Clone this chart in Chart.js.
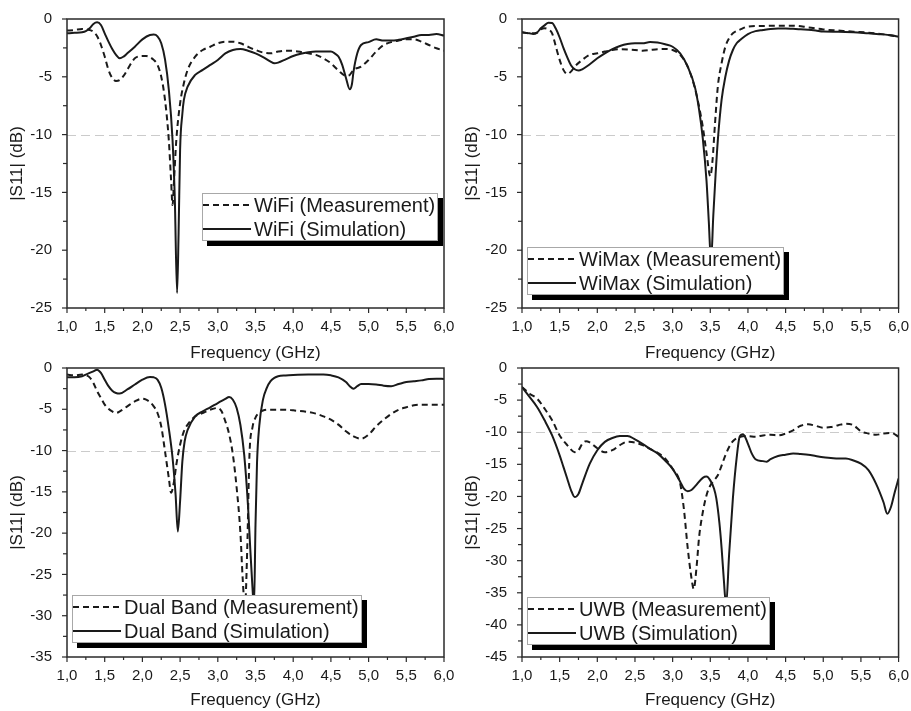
<!DOCTYPE html>
<html>
<head>
<meta charset="utf-8">
<title>|S11| vs frequency</title>
<script src="https://cdn.jsdelivr.net/npm/chart.js@4/dist/chart.umd.min.js"></script>
<style>
  html, body { margin: 0; padding: 0; background: #fff; }
  #wrap { position: relative; width: 911px; height: 711px; overflow: hidden; }
  .panel { position: absolute; }
</style>
</head>
<body>
<div id="wrap">
  <canvas id="wifiChart" class="panel"></canvas>
  <canvas id="wimaxChart" class="panel"></canvas>
  <canvas id="dualChart" class="panel"></canvas>
  <canvas id="uwbChart" class="panel"></canvas>
</div>
<script>
const FONT = "'Liberation Sans', Arial, sans-serif";
const INK = "#1a1a1a";

// axis ticks
const freqTicks = [1.0, 1.5, 2.0, 2.5, 3.0, 3.5, 4.0, 4.5, 5.0, 5.5, 6.0];
const dbTicks25 = [0, -5, -10, -15, -20, -25];
const dbTicks35 = [0, -5, -10, -15, -20, -25, -30, -35];
const dbTicks45 = [0, -5, -10, -15, -20, -25, -30, -35, -40, -45];
const refLevel = -10;

// WiFi
const wifiMeasFreq = [1.0,1.1,1.2,1.25,1.3,1.35,1.4,1.45,1.5,1.55,1.6,1.65,1.7,1.75,1.8,1.85,1.9,2.0,2.05,2.1,2.15,2.2,2.25,2.3,2.35,2.38,2.4,2.42,2.45,2.5,2.55,2.6,2.7,2.8,2.9,3.0,3.1,3.2,3.3,3.4,3.5,3.6,3.7,3.8,3.9,4.0,4.1,4.2,4.3,4.4,4.5,4.6,4.7,4.75,4.8,4.9,5.0,5.1,5.2,5.3,5.4,5.5,5.6,5.7,5.8,5.9,6.0];
const wifiMeasDb = [-1.0,-0.95,-0.86,-0.9,-0.95,-1.1,-1.5,-2.25,-3.25,-4.4,-5.1,-5.36,-5.27,-4.92,-4.4,-3.83,-3.4,-3.2,-3.2,-3.3,-3.54,-3.97,-5.0,-7.0,-10.45,-13.9,-16.1,-13.9,-10.45,-7.3,-5.56,-4.4,-3.25,-2.68,-2.4,-2.1,-1.96,-1.96,-2.1,-2.4,-2.68,-2.9,-2.97,-2.82,-2.74,-2.76,-2.85,-2.97,-3.1,-3.4,-3.83,-4.46,-4.92,-4.84,-4.4,-4.12,-3.54,-2.82,-2.25,-2.0,-1.87,-1.76,-1.76,-1.96,-2.25,-2.53,-2.74];
const wifiSimFreq = [1.0,1.1,1.2,1.25,1.3,1.35,1.4,1.45,1.5,1.55,1.6,1.65,1.7,1.75,1.8,1.9,2.0,2.1,2.15,2.2,2.25,2.3,2.35,2.4,2.43,2.46,2.48,2.5,2.53,2.55,2.6,2.7,2.8,2.9,3.0,3.1,3.2,3.3,3.4,3.5,3.6,3.7,3.75,3.8,3.9,4.0,4.1,4.2,4.3,4.4,4.5,4.55,4.6,4.65,4.7,4.75,4.78,4.8,4.85,4.9,5.0,5.1,5.2,5.3,5.4,5.5,5.6,5.7,5.8,5.9,6.0];
const wifiSimDb = [-1.24,-1.2,-1.15,-1.05,-0.8,-0.43,-0.29,-0.52,-1.24,-1.96,-2.6,-3.1,-3.4,-3.25,-2.97,-2.4,-1.76,-1.38,-1.35,-1.5,-2.1,-3.5,-6.1,-10.5,-15.6,-23.7,-18.5,-11.3,-8.2,-7.0,-5.85,-4.84,-4.4,-3.97,-3.54,-2.97,-2.68,-2.6,-2.74,-2.97,-3.3,-3.69,-3.83,-3.77,-3.49,-3.2,-3.0,-2.88,-2.82,-2.82,-2.82,-2.97,-3.25,-3.97,-5.1,-6.08,-5.6,-4.55,-2.97,-2.25,-2.0,-1.76,-1.87,-1.87,-1.8,-1.67,-1.53,-1.38,-1.38,-1.3,-1.44];

// WiMax
const wimaxMeasFreq = [1.0,1.1,1.2,1.25,1.3,1.35,1.4,1.45,1.5,1.55,1.6,1.65,1.7,1.8,1.9,2.0,2.1,2.2,2.3,2.5,2.6,2.7,2.8,2.9,3.0,3.1,3.2,3.3,3.4,3.45,3.5,3.53,3.56,3.6,3.65,3.7,3.75,3.8,3.9,4.0,4.2,4.4,4.6,4.8,5.0,5.2,5.4,5.6,5.8,6.0];
const wimaxMeasDb = [-1.15,-1.24,-1.18,-0.9,-0.8,-0.9,-1.24,-2.4,-3.54,-4.4,-4.75,-4.55,-4.12,-3.54,-3.1,-2.97,-2.82,-2.68,-2.62,-2.68,-2.74,-2.68,-2.62,-2.6,-2.68,-3.1,-4.12,-6.1,-9.3,-11.6,-13.6,-12.2,-9.3,-5.85,-3.83,-2.4,-1.67,-1.24,-0.9,-0.66,-0.6,-0.58,-0.58,-0.72,-0.9,-1.0,-1.1,-1.18,-1.33,-1.53];
const wimaxSimFreq = [1.0,1.1,1.15,1.2,1.25,1.3,1.35,1.4,1.45,1.5,1.55,1.6,1.65,1.7,1.75,1.8,1.9,2.0,2.1,2.2,2.3,2.4,2.5,2.6,2.7,2.8,2.9,3.0,3.1,3.2,3.3,3.35,3.4,3.45,3.48,3.51,3.54,3.57,3.6,3.65,3.7,3.75,3.8,3.85,3.9,4.0,4.1,4.2,4.3,4.4,4.5,4.6,4.7,4.8,4.9,5.0,5.2,5.4,5.6,5.8,5.9,6.0];
const wimaxSimDb = [-1.15,-1.24,-1.3,-1.18,-0.8,-0.55,-0.32,-0.35,-0.85,-1.6,-2.5,-3.3,-4.0,-4.35,-4.46,-4.35,-3.92,-3.4,-2.97,-2.6,-2.33,-2.16,-2.1,-2.1,-2.0,-2.04,-2.19,-2.4,-2.97,-4.12,-6.0,-7.8,-10.3,-14.0,-17.5,-21.0,-17.0,-13.5,-10.5,-7.0,-5.0,-3.6,-2.68,-2.1,-1.8,-1.3,-1.05,-0.95,-0.86,-0.82,-0.82,-0.85,-0.88,-0.93,-1.0,-1.08,-1.1,-1.15,-1.24,-1.33,-1.41,-1.53];

// Dual band
const dualMeasFreq = [1.0,1.1,1.2,1.25,1.3,1.35,1.4,1.45,1.5,1.55,1.6,1.65,1.7,1.8,1.9,2.0,2.05,2.1,2.15,2.2,2.25,2.3,2.35,2.38,2.42,2.45,2.5,2.55,2.6,2.7,2.8,2.9,3.0,3.05,3.1,3.15,3.2,3.25,3.3,3.33,3.36,3.39,3.42,3.46,3.5,3.55,3.6,3.7,3.8,3.9,4.0,4.2,4.3,4.4,4.5,4.6,4.7,4.8,4.9,5.0,5.1,5.2,5.3,5.4,5.5,5.6,5.7,5.8,5.9,6.0];
const dualMeasDb = [-0.8,-0.89,-0.8,-0.89,-1.13,-1.82,-2.83,-3.63,-4.44,-4.93,-5.25,-5.45,-5.25,-4.64,-4.04,-3.71,-3.84,-4.12,-4.64,-5.45,-7.07,-10.1,-13.3,-15.1,-13.7,-11.7,-9.3,-7.67,-6.86,-5.85,-5.45,-5.05,-4.84,-5.25,-6.46,-8.0,-10.5,-14.5,-20.0,-25.5,-29.0,-22.0,-10.5,-7.2,-6.0,-5.4,-5.15,-5.05,-5.05,-5.05,-5.13,-5.33,-5.53,-5.85,-6.26,-6.86,-7.67,-8.28,-8.56,-8.07,-7.07,-6.26,-5.57,-5.05,-4.76,-4.52,-4.44,-4.44,-4.44,-4.44];
const dualSimFreq = [1.0,1.1,1.2,1.25,1.3,1.35,1.4,1.45,1.5,1.55,1.6,1.65,1.7,1.8,1.9,2.0,2.1,2.15,2.2,2.25,2.3,2.35,2.4,2.44,2.47,2.5,2.53,2.56,2.6,2.7,2.8,2.9,3.0,3.1,3.15,3.2,3.25,3.3,3.35,3.4,3.43,3.46,3.48,3.5,3.52,3.55,3.6,3.65,3.7,3.75,3.8,3.9,4.0,4.2,4.4,4.5,4.6,4.7,4.75,4.8,4.85,4.9,5.0,5.1,5.2,5.3,5.4,5.5,5.6,5.7,5.8,5.9,6.0];
const dualSimDb = [-1.13,-1.13,-1.0,-0.8,-0.6,-0.4,-0.2,-0.6,-1.41,-2.2,-2.75,-3.03,-3.1,-2.6,-2.0,-1.41,-1.09,-1.13,-1.41,-2.4,-4.4,-7.3,-10.9,-15.3,-19.8,-16.1,-11.3,-8.9,-7.5,-5.85,-5.25,-4.76,-4.24,-3.75,-3.5,-3.84,-4.84,-6.9,-10.5,-16.6,-21.8,-26.6,-29.0,-19.0,-11.5,-7.0,-3.8,-2.4,-1.6,-1.2,-1.0,-0.9,-0.85,-0.8,-0.8,-0.89,-1.13,-1.7,-2.2,-2.5,-2.2,-1.94,-1.94,-2.0,-2.14,-2.2,-1.94,-1.7,-1.6,-1.5,-1.33,-1.29,-1.33];

// UWB
const uwbMeasFreq = [1.0,1.1,1.2,1.3,1.4,1.5,1.6,1.7,1.75,1.8,1.85,1.9,2.0,2.1,2.2,2.3,2.4,2.5,2.6,2.7,2.8,2.9,3.0,3.1,3.15,3.2,3.25,3.28,3.32,3.35,3.4,3.45,3.5,3.55,3.6,3.65,3.7,3.75,3.8,3.9,4.0,4.1,4.2,4.3,4.4,4.5,4.6,4.7,4.8,4.9,5.0,5.1,5.2,5.3,5.4,5.5,5.6,5.7,5.8,5.9,6.0];
const uwbMeasDb = [-2.96,-4.0,-4.77,-6.33,-8.15,-10.5,-12.0,-13.1,-12.8,-11.8,-11.4,-11.6,-12.5,-13.1,-12.8,-12.0,-11.5,-11.6,-12.0,-12.6,-13.2,-14.1,-15.7,-18.0,-22.0,-28.0,-32.7,-34.4,-30.7,-26.5,-22.5,-19.8,-18.3,-17.5,-16.7,-15.2,-13.6,-12.3,-11.4,-10.7,-10.6,-10.7,-10.5,-10.4,-10.5,-10.2,-9.7,-9.0,-8.77,-9.0,-9.3,-9.2,-8.9,-8.67,-8.9,-9.86,-10.2,-10.4,-10.2,-10.1,-10.7];
const uwbSimFreq = [1.0,1.1,1.2,1.3,1.4,1.5,1.55,1.6,1.65,1.7,1.75,1.8,1.9,2.0,2.1,2.2,2.3,2.4,2.5,2.6,2.7,2.8,2.9,3.0,3.1,3.15,3.2,3.25,3.3,3.4,3.45,3.5,3.55,3.58,3.62,3.65,3.68,3.71,3.75,3.8,3.85,3.89,3.935,4.0,4.05,4.1,4.2,4.25,4.3,4.4,4.5,4.6,4.7,4.8,4.9,5.0,5.1,5.2,5.3,5.4,5.5,5.6,5.7,5.8,5.85,5.9,5.95,6.0];
const uwbSimDb = [-2.96,-4.5,-6.07,-8.15,-10.5,-13.6,-15.4,-17.2,-19.0,-20.1,-19.6,-18.0,-14.9,-12.8,-11.5,-10.9,-10.6,-10.6,-11.1,-11.8,-12.6,-13.3,-14.4,-15.7,-17.7,-18.8,-19.2,-19.0,-18.4,-17.1,-16.9,-17.5,-18.8,-20.3,-24.0,-28.0,-33.0,-37.0,-29.0,-20.3,-14.0,-10.7,-10.3,-11.8,-13.3,-14.2,-14.5,-14.6,-14.2,-13.7,-13.5,-13.3,-13.4,-13.5,-13.7,-13.9,-14.0,-14.1,-14.1,-14.4,-14.9,-15.9,-18.0,-20.9,-22.7,-21.6,-19.3,-17.2];

function points(xs, ys) {
    return xs.map((x, i) => ({ x: x, y: ys[i] }));
}

function series(name, measFreq, measDb, simFreq, simDb) {
    const common = {
        borderColor: INK,
        borderWidth: 2,
        pointRadius: 0,
        fill: false,
        cubicInterpolationMode: "monotone"
    };
    return [
        Object.assign({ label: name + " (Measurement)", data: points(measFreq, measDb), borderDash: [6, 4] }, common),
        Object.assign({ label: name + " (Simulation)", data: points(simFreq, simDb), borderDash: [] }, common)
    ];
}

// -10 dB guide, frame, outward ticks and the shadowed legend box
const framePlugin = {
    id: "frame",
    beforeDatasetsDraw(chart) {
        const { ctx, chartArea: a, scales: { y } } = chart;
        const yr = Math.round(y.getPixelForValue(refLevel)) + 0.5;
        ctx.save();
        ctx.strokeStyle = "#cbcbcb";
        ctx.lineWidth = 1;
        ctx.setLineDash([9, 5]);
        ctx.beginPath();
        ctx.moveTo(a.left, yr);
        ctx.lineTo(a.right, yr);
        ctx.stroke();
        ctx.restore();
    },
    afterDatasetsDraw(chart, args, opts) {
        const { ctx, chartArea: a, scales: { x, y } } = chart;
        ctx.save();

        // legend
        ctx.font = "20px " + FONT;
        const sets = chart.data.datasets;
        const textW = Math.max(...sets.map(d => ctx.measureText(d.label).width));
        const bx = Math.round(a.left + opts.legendAt[0]);
        const by = Math.round(a.top + opts.legendAt[1]);
        const bw = Math.round(53 + textW + 2);
        const bh = 48;
        ctx.fillStyle = "#000";
        ctx.fillRect(bx + 5, by + 5, bw, bh);
        ctx.fillStyle = "#fff";
        ctx.fillRect(bx, by, bw, bh);
        ctx.strokeStyle = "#a8a8a8";
        ctx.lineWidth = 1;
        ctx.strokeRect(bx + 0.5, by + 0.5, bw - 1, bh - 1);
        sets.forEach((d, i) => {
            const ry = by + 12 + i * 24;
            ctx.strokeStyle = d.borderColor;
            ctx.lineWidth = 2;
            ctx.setLineDash(d.borderDash);
            ctx.beginPath();
            ctx.moveTo(bx + 1, ry);
            ctx.lineTo(bx + 49, ry);
            ctx.stroke();
            ctx.setLineDash([]);
            ctx.fillStyle = INK;
            ctx.textBaseline = "middle";
            ctx.textAlign = "left";
            ctx.fillText(d.label, bx + 52, ry + 1);
        });

        // frame
        ctx.strokeStyle = "#2a2a2a";
        ctx.lineWidth = 1.5;
        ctx.strokeRect(a.left, a.top, a.right - a.left, a.bottom - a.top);

        // ticks: majors on labels, minors half way between
        ctx.lineWidth = 1.2;
        const xs = x.ticks.map(t => t.value);
        xs.forEach((v, i) => {
            const px = x.getPixelForValue(v);
            ctx.beginPath();
            ctx.moveTo(px, a.bottom);
            ctx.lineTo(px, a.bottom + 5);
            ctx.stroke();
            if (i < xs.length - 1) {
                const pm = x.getPixelForValue((v + xs[i + 1]) / 2);
                ctx.beginPath();
                ctx.moveTo(pm, a.bottom);
                ctx.lineTo(pm, a.bottom + 3);
                ctx.stroke();
            }
        });
        const ys = y.ticks.map(t => t.value);
        ys.forEach((v, i) => {
            const py = y.getPixelForValue(v);
            ctx.beginPath();
            ctx.moveTo(a.left - 5, py);
            ctx.lineTo(a.left, py);
            ctx.stroke();
            if (i < ys.length - 1) {
                const pm = y.getPixelForValue((v + ys[i + 1]) / 2);
                ctx.beginPath();
                ctx.moveTo(a.left - 4, pm);
                ctx.lineTo(a.left, pm);
                ctx.stroke();
            }
        });
        ctx.restore();
    }
};

function makePanel(id, box, dbTicks, datasets, legendAt) {
    const canvas = document.getElementById(id);
    canvas.width = box.w;
    canvas.height = box.h;
    canvas.style.left = box.left + "px";
    canvas.style.top = box.top + "px";

    new Chart(canvas, {
        type: "line",
        data: { datasets: datasets },
        options: {
            responsive: false,
            animation: false,
            events: [],
            layout: { padding: { top: box.padTop, right: box.padRight, left: 0, bottom: 0 } },
            plugins: {
                legend: { display: false },
                tooltip: { enabled: false },
                frame: { legendAt: legendAt }
            },
            scales: {
                x: {
                    type: "linear",
                    min: freqTicks[0],
                    max: freqTicks[freqTicks.length - 1],
                    afterBuildTicks: s => { s.ticks = freqTicks.map(v => ({ value: v })); },
                    afterFit: s => { s.height = box.xAxisH; },
                    grid: { display: false },
                    border: { display: false },
                    ticks: {
                        autoSkip: false,
                        maxRotation: 0,
                        padding: 2,
                        color: INK,
                        font: { family: FONT, size: 15 },
                        callback: v => v.toFixed(1).replace(".", ",")
                    },
                    title: {
                        display: true,
                        text: "Frequency (GHz)",
                        color: INK,
                        font: { family: FONT, size: 17 },
                        padding: 0
                    }
                },
                y: {
                    min: dbTicks[dbTicks.length - 1],
                    max: dbTicks[0],
                    afterBuildTicks: s => { s.ticks = dbTicks.slice().reverse().map(v => ({ value: v })); },
                    afterFit: s => { s.width = 67; },
                    grid: { display: false },
                    border: { display: false },
                    ticks: {
                        padding: 7,
                        color: INK,
                        font: { family: FONT, size: 15 },
                        callback: v => String(v)
                    },
                    title: {
                        display: true,
                        text: "|S11| (dB)",
                        color: INK,
                        font: { family: FONT, size: 17 },
                        padding: { top: 7, bottom: 0 }
                    }
                }
            }
        },
        plugins: [framePlugin]
    });
}

makePanel("wifiChart",
    { left: 0, top: 0, w: 470, h: 364, padTop: 19, padRight: 26, xAxisH: 56 },
    dbTicks25, series("WiFi", wifiMeasFreq, wifiMeasDb, wifiSimFreq, wifiSimDb), [135, 174]);

makePanel("wimaxChart",
    { left: 455, top: 0, w: 456, h: 364, padTop: 19, padRight: 12, xAxisH: 56 },
    dbTicks25, series("WiMax", wimaxMeasFreq, wimaxMeasDb, wimaxSimFreq, wimaxSimDb), [5, 228]);

makePanel("dualChart",
    { left: 0, top: 350, w: 470, h: 361, padTop: 18, padRight: 26, xAxisH: 54 },
    dbTicks35, series("Dual Band", dualMeasFreq, dualMeasDb, dualSimFreq, dualSimDb), [5, 227]);

makePanel("uwbChart",
    { left: 455, top: 350, w: 456, h: 361, padTop: 18, padRight: 12, xAxisH: 54 },
    dbTicks45, series("UWB", uwbMeasFreq, uwbMeasDb, uwbSimFreq, uwbSimDb), [5, 229]);
</script>
</body>
</html>
